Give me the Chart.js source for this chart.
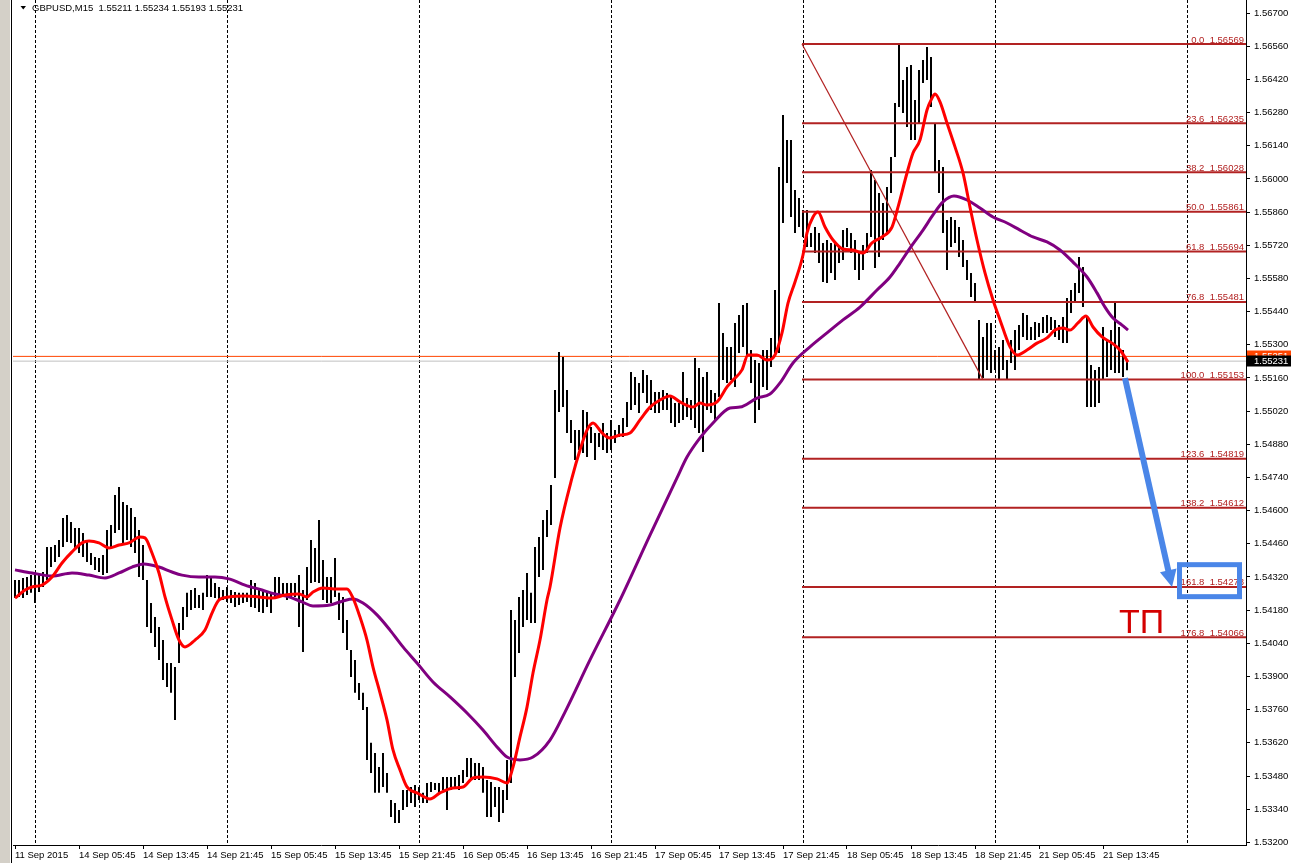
<!DOCTYPE html>
<html lang="en">
<head>
<meta charset="UTF-8">
<title>GBPUSD,M15</title>
<script src="https://cdn.jsdelivr.net/npm/chart.js@4.4.0/dist/chart.umd.min.js"></script>
<style>
  html, body { margin: 0; padding: 0; background: #fff; }
  canvas { display: block; }
</style>
</head>
<body>
<canvas id="chart" width="1291" height="863"></canvas>
<script>
// M15 bars, every second bar (x = bar number, 2 per entry)
const barHigh = [
  1.54307,1.54307,1.54316,1.54320,1.54328,1.54337,1.54328,1.54341,1.54447,1.54447,
  1.54455,1.54476,1.54569,1.54582,1.54552,1.54527,1.54527,1.54506,1.54468,1.54421,
  1.54404,1.54400,1.54413,1.54518,1.54539,1.54666,1.54700,1.54637,1.54624,1.54611,
  1.54573,1.54518,1.54455,1.54307,1.54210,1.54151,1.54109,1.54054,1.53957,1.53957,
  1.53940,1.54126,1.54193,1.54253,1.54265,1.54274,1.54244,1.54253,1.54328,1.54320,
  1.54295,1.54278,1.54265,1.54278,1.54265,1.54257,1.54253,1.54253,1.54253,1.54307,
  1.54295,1.54265,1.54265,1.54253,1.54253,1.54320,1.54320,1.54295,1.54295,1.54295,
  1.54295,1.54328,1.54265,1.54362,1.54476,1.54442,1.54561,1.54392,1.54320,1.54320,
  1.54400,1.54253,1.54236,1.54139,1.54012,1.53970,1.53873,1.53831,1.53771,1.53620,
  1.53577,1.53518,1.53577,1.53493,1.53379,1.53366,1.53337,1.53421,1.53421,1.53434,
  1.53442,1.53434,1.53409,1.53451,1.53455,1.53451,1.53451,1.53476,1.53476,1.53476,
  1.53476,1.53484,1.53506,1.53556,1.53556,1.53535,1.53535,1.53518,1.53463,1.53455,
  1.53434,1.53434,1.53421,1.53548,1.54181,1.54139,1.54236,1.54265,1.54337,1.54253,
  1.54447,1.54489,1.54561,1.54603,1.54708,1.55109,1.55270,1.55248,1.55109,1.54983,
  1.54940,1.54940,1.55025,1.55016,1.54953,1.54928,1.54928,1.54970,1.54928,1.54983,
  1.54940,1.54961,1.54991,1.55059,1.55185,1.55164,1.55139,1.55194,1.55172,1.55151,
  1.55101,1.55101,1.55109,1.55097,1.55088,1.55054,1.55054,1.55185,1.55075,1.55067,
  1.55244,1.55202,1.55164,1.55185,1.55109,1.55097,1.55476,1.55350,1.55291,1.55291,
  1.55392,1.55426,1.55468,1.55476,1.55278,1.55236,1.55223,1.55278,1.55278,1.55329,
  1.55531,1.56050,1.56270,1.56164,1.56164,1.55953,1.55919,1.55869,1.55869,1.55772,
  1.55797,1.55772,1.55730,1.55742,1.55730,1.55730,1.55713,1.55784,1.55793,1.55772,
  1.55742,1.55687,1.55721,1.55772,1.56038,1.55995,1.55941,1.55898,1.55966,1.56092,
  1.56320,1.56569,1.56417,1.56472,1.56481,1.56333,1.56460,1.56502,1.56557,1.56514,
  1.56236,1.56080,1.56050,1.55827,1.55839,1.55827,1.55797,1.55742,1.55658,1.55603,
  1.55561,1.55405,1.55333,1.55392,1.55392,1.55278,1.55291,1.55320,1.55236,1.55320,
  1.55362,1.55383,1.55434,1.55426,1.55375,1.55396,1.55392,1.55417,1.55426,1.55417,
  1.55405,1.55383,1.55417,1.55497,1.55531,1.55561,1.55670,1.55628,1.55417,1.55215,
  1.55194,1.55206,1.55375,1.55320,1.55362,1.55481,1.55375,1.55278,1.55234
];
const barLow = [
  1.54231,1.54236,1.54231,1.54244,1.54253,1.54210,1.54257,1.54278,1.54307,1.54362,
  1.54383,1.54404,1.54447,1.54468,1.54464,1.54434,1.54421,1.54404,1.54383,1.54371,
  1.54350,1.54341,1.54328,1.54337,1.54447,1.54506,1.54518,1.54464,1.54476,1.54447,
  1.54421,1.54320,1.54307,1.54109,1.54084,1.54025,1.53970,1.53885,1.53856,1.53831,
  1.53717,1.53957,1.54096,1.54151,1.54181,1.54189,1.54189,1.54181,1.54236,1.54236,
  1.54231,1.54223,1.54223,1.54215,1.54210,1.54193,1.54202,1.54210,1.54215,1.54193,
  1.54189,1.54172,1.54168,1.54193,1.54168,1.54236,1.54236,1.54236,1.54223,1.54231,
  1.54236,1.54109,1.54004,1.54223,1.54295,1.54299,1.54295,1.54223,1.54210,1.54210,
  1.54236,1.54139,1.54084,1.54012,1.53898,1.53831,1.53801,1.53759,1.53548,1.53493,
  1.53409,1.53409,1.53434,1.53409,1.53307,1.53282,1.53282,1.53337,1.53349,1.53366,
  1.53349,1.53379,1.53366,1.53366,1.53413,1.53421,1.53409,1.53421,1.53337,1.53421,
  1.53434,1.53421,1.53451,1.53476,1.53463,1.53463,1.53463,1.53409,1.53307,1.53307,
  1.53349,1.53286,1.53324,1.53379,1.53451,1.53898,1.53999,1.54109,1.54139,1.54126,
  1.54126,1.54320,1.54350,1.54489,1.54539,1.54738,1.55016,1.55037,1.54928,1.54886,
  1.54814,1.54856,1.54843,1.54826,1.54886,1.54814,1.54869,1.54856,1.54843,1.54856,
  1.54886,1.54911,1.54911,1.54953,1.55025,1.55046,1.55012,1.55097,1.55054,1.55025,
  1.55012,1.55012,1.55025,1.55025,1.54970,1.54953,1.54970,1.54983,1.54995,1.54983,
  1.54949,1.54928,1.54848,1.55025,1.55012,1.54983,1.55080,1.55151,1.55139,1.55151,
  1.55122,1.55265,1.55291,1.55248,1.55139,1.54970,1.55025,1.55122,1.55109,1.55206,
  1.55265,1.55265,1.55814,1.55983,1.55839,1.55772,1.55797,1.55755,1.55713,1.55713,
  1.55687,1.55645,1.55565,1.55561,1.55603,1.55573,1.55645,1.55658,1.55713,1.55687,
  1.55616,1.55573,1.55616,1.55687,1.55755,1.55624,1.55670,1.55742,1.55772,1.55941,
  1.56092,1.56303,1.56278,1.56219,1.56164,1.56164,1.56236,1.56405,1.56417,1.56303,
  1.56025,1.55941,1.55772,1.55616,1.55713,1.55730,1.55670,1.55628,1.55573,1.55502,
  1.55476,1.55153,1.55160,1.55194,1.55181,1.55194,1.55155,1.55194,1.55155,1.55223,
  1.55194,1.55278,1.55333,1.55320,1.55320,1.55320,1.55333,1.55350,1.55350,1.55362,
  1.55333,1.55320,1.55307,1.55307,1.55434,1.55476,1.55519,1.55459,1.55037,1.55037,
  1.55037,1.55054,1.55151,1.55164,1.55194,1.55181,1.55181,1.55164,1.55193
];

// moving averages, read at these bar numbers
const fastN = [0,5,8.5,13.5,18.5,23.5,28.5,33.5,37,42,47,52,57,62.5,65,68.5,72,75,78.5,82,85,90,95,98.5,102,107,115,122,128.5,135,142,146,149,154,161,166,169,172.5,176,179,182.5,186,189,192.5,196,201,207.5,212.5,219,224,229,234,241,246,249,252.5,256,259,262.5,266,267.5,272.5,278.5,282.5,286,289,293.5,297.5,302.5,307.5,312.5,317.5,322.5,327.5,332.5,339,342.5,346,351,356,359,363.5,366.5,371,376,380,383.5,386.5,390,394,396,399,401.5,405,409,414,419,424,428.5,433.5,438.5,441.5,446,449,452.5,456,458.5,460,462.5,466,470,474,477.5,481,485,489,492.5,497.5,501,506,511,516,520,524,527.5,531.5,535.5,539,543.5,548.5,552.5,556.5];
const fastMA = [1.54231,1.54265,1.54278,1.54286,1.54320,1.54379,1.54426,1.54464,1.54472,1.54464,1.54442,1.54455,1.54464,1.54489,1.54485,1.54421,1.54337,1.54236,1.54139,1.54054,1.54025,1.54054,1.54096,1.54168,1.54223,1.54236,1.54240,1.54236,1.54231,1.54244,1.54248,1.54236,1.54257,1.54274,1.54269,1.54269,1.54231,1.54151,1.54054,1.53940,1.53831,1.53717,1.53590,1.53506,1.53434,1.53409,1.53383,1.53409,1.53430,1.53434,1.53472,1.53476,1.53468,1.53451,1.53518,1.53645,1.53771,1.53915,1.54054,1.54223,1.54278,1.54527,1.54738,1.54856,1.54940,1.54970,1.54928,1.54907,1.54919,1.54928,1.54983,1.55037,1.55067,1.55084,1.55059,1.55037,1.55054,1.55046,1.55059,1.55122,1.55151,1.55194,1.55257,1.55257,1.55236,1.55257,1.55350,1.55476,1.55565,1.55679,1.55772,1.55839,1.55860,1.55797,1.55742,1.55704,1.55700,1.55687,1.55730,1.55755,1.55797,1.55881,1.56025,1.56109,1.56164,1.56291,1.56341,1.56358,1.56325,1.56236,1.56135,1.56025,1.55881,1.55742,1.55603,1.55489,1.55405,1.55291,1.55257,1.55278,1.55307,1.55329,1.55362,1.55371,1.55362,1.55392,1.55421,1.55375,1.55333,1.55307,1.55278,1.55227];
const slowN = [0,8.5,18.5,28.5,37,45,52,58.5,64.5,72,78.5,83.5,92,100,107,115,123.5,130,137,143.5,149,157.5,164,169,174,181,187.5,194,201,209,217.5,226,234,241,246,252.5,259,267.5,275,287.5,302.5,317.5,331,336,342.5,349,357.5,362.5,371,377.5,382.5,389,397.5,406,414,422.5,431,437.5,442.5,447.5,454,459,464,469.5,476,482.5,489,496,502.5,509,516,522.5,529,536,541,545,549,553.5,556.5];
const slowMA = [1.54350,1.54337,1.54324,1.54337,1.54328,1.54316,1.54337,1.54362,1.54375,1.54362,1.54341,1.54328,1.54320,1.54320,1.54312,1.54286,1.54265,1.54248,1.54236,1.54215,1.54198,1.54202,1.54219,1.54227,1.54210,1.54160,1.54096,1.54025,1.53957,1.53877,1.53814,1.53746,1.53674,1.53603,1.53560,1.53548,1.53560,1.53632,1.53750,1.53970,1.54223,1.54497,1.54738,1.54826,1.54907,1.54970,1.55033,1.55037,1.55075,1.55092,1.55139,1.55223,1.55291,1.55350,1.55405,1.55459,1.55531,1.55586,1.55645,1.55708,1.55784,1.55848,1.55903,1.55928,1.55911,1.55877,1.55839,1.55814,1.55784,1.55755,1.55734,1.55700,1.55649,1.55586,1.55519,1.55459,1.55413,1.55383,1.55362];

// fibonacci object
const fibPct = ['0.0','23.6','38.2','50.0','61.8','76.8','100.0','123.6','138.2','161.8','176.8'];
const fibVal = [1.56569,1.56235,1.56028,1.55861,1.55694,1.55481,1.55153,1.54819,1.54612,1.54278,1.54066];
const fibStartN = 393.5;
const fibEndN = 484;

const xLabels = ['11 Sep 2015','14 Sep 05:45','14 Sep 13:45','14 Sep 21:45','15 Sep 05:45','15 Sep 13:45','15 Sep 21:45','16 Sep 05:45','16 Sep 13:45','16 Sep 21:45','17 Sep 05:45','17 Sep 13:45','17 Sep 21:45','18 Sep 05:45','18 Sep 13:45','18 Sep 21:45','21 Sep 05:45','21 Sep 13:45'];
const xLabelN = [0,32,64,96,128,160,192,224,256,288,320,352,384,416,448,480,512,544];
const daySepN = [10,106,202,298,394,490,586];
const yTickVals = [1.53200,1.53340,1.53480,1.53620,1.53760,1.53900,1.54040,1.54180,1.54320,1.54460,1.54600,1.54740,1.54880,1.55020,1.55160,1.55300,1.55440,1.55580,1.55720,1.55860,1.56000,1.56140,1.56280,1.56420,1.56560,1.56700];

const symbolText = 'GBPUSD,M15';
const lastOHLC = ['1.55211','1.55234','1.55193','1.55231'];
const bidPrice = 1.55231;
const askPrice = 1.55251;

// hand drawn target
const arrowFrom = { x: 555, y: 1.55159 };
const arrowTo = { x: 578.5, y: 1.54278 };
const tpBox = { x1: 582.25, x2: 612.25, y1: 1.54372, y2: 1.54237 };
const tpText = { x: 563.25, y: 1.54082, text: 'ТП' };

const X_MIN = -1, X_MAX = 615.5;
const Y_MIN = 1.53189, Y_MAX = 1.56755;
const FIB_COLOR = '#b22222';
const BLUE = '#4a86e8';
const FONT = '"Liberation Sans", Arial, sans-serif';

const bars = barHigh.map((h, i) => ({ x: i * 2, y: [barLow[i], h] }));

const datasets = [];
datasets.push({
  type: 'bar', data: bars, backgroundColor: '#000', borderWidth: 0,
  barThickness: 2, inflateAmount: 0, grouped: false, order: 10
});
datasets.push({
  type: 'line', data: [{ x: X_MIN, y: bidPrice }, { x: X_MAX, y: bidPrice }],
  borderColor: '#c0c0c0', borderWidth: 1, pointRadius: 0, order: 12
});
datasets.push({
  type: 'line', data: [{ x: X_MIN, y: askPrice }, { x: X_MAX, y: askPrice }],
  borderColor: '#ff4500', borderWidth: 1, pointRadius: 0, order: 11
});
fibVal.forEach(v => {
  datasets.push({
    type: 'line', data: [{ x: fibStartN, y: v }, { x: X_MAX, y: v }],
    borderColor: FIB_COLOR, borderWidth: 2, pointRadius: 0, order: 5
  });
});
datasets.push({
  type: 'line', data: [{ x: fibStartN, y: fibVal[0] }, { x: fibEndN, y: fibVal[6] }],
  borderColor: FIB_COLOR, borderWidth: 1.2, pointRadius: 0, order: 5
});
datasets.push({
  type: 'line', data: slowN.map((n, i) => ({ x: n, y: slowMA[i] })),
  borderColor: '#800080', borderWidth: 3, pointRadius: 0,
  cubicInterpolationMode: 'monotone', order: 2
});
datasets.push({
  type: 'line', data: fastN.map((n, i) => ({ x: n, y: fastMA[i] })),
  borderColor: '#ff0000', borderWidth: 3, pointRadius: 0,
  cubicInterpolationMode: 'monotone', order: 1
});

const decor = {
  id: 'decor',
  beforeDraw(chart) {
    const { ctx, width, height } = chart;
    ctx.save();
    ctx.fillStyle = '#fff';
    ctx.fillRect(0, 0, width, height);
    ctx.fillStyle = '#d4d0c8';
    ctx.fillRect(0, 0, 10, height);
    ctx.fillStyle = '#000';
    ctx.fillRect(11, 0, 1, height);
    ctx.restore();
  },
  beforeDatasetsDraw(chart) {
    const { ctx, chartArea, scales } = chart;
    ctx.save();
    ctx.strokeStyle = '#000';
    ctx.lineWidth = 1;
    ctx.setLineDash([3, 2]);
    daySepN.forEach(n => {
      const px = Math.round(scales.x.getPixelForValue(n)) + 0.5;
      ctx.beginPath();
      ctx.moveTo(px, chartArea.top);
      ctx.lineTo(px, chartArea.bottom);
      ctx.stroke();
    });
    ctx.restore();
  },
  afterDatasetsDraw(chart) {
    const { ctx, chartArea, scales } = chart;
    const x = scales.x, y = scales.y;
    ctx.save();
    // fib level captions
    ctx.font = '9.5px ' + FONT;
    ctx.fillStyle = FIB_COLOR;
    ctx.textAlign = 'right';
    ctx.textBaseline = 'alphabetic';
    fibVal.forEach((v, i) => {
      ctx.fillText(fibPct[i] + '  ' + v.toFixed(5), chartArea.right - 2, y.getPixelForValue(v) - 1.5);
    });

    // arrow to the target
    const x0 = x.getPixelForValue(arrowFrom.x), y0 = y.getPixelForValue(arrowFrom.y);
    const x1 = x.getPixelForValue(arrowTo.x), y1 = y.getPixelForValue(arrowTo.y);
    const len = Math.hypot(x1 - x0, y1 - y0);
    const ux = (x1 - x0) / len, uy = (y1 - y0) / len;
    const head = 17, half = 8.5;
    const bx = x1 - ux * head, by = y1 - uy * head;
    ctx.strokeStyle = BLUE;
    ctx.fillStyle = BLUE;
    ctx.lineWidth = 6;
    ctx.beginPath();
    ctx.moveTo(x0, y0);
    ctx.lineTo(bx + ux * 2, by + uy * 2);
    ctx.stroke();
    ctx.beginPath();
    ctx.moveTo(x1, y1);
    ctx.lineTo(bx - uy * half, by + ux * half);
    ctx.lineTo(bx + uy * half, by - ux * half);
    ctx.closePath();
    ctx.fill();

    // target box
    ctx.lineWidth = 5;
    const rx = x.getPixelForValue(tpBox.x1), ry = y.getPixelForValue(tpBox.y1);
    ctx.strokeRect(rx, ry, x.getPixelForValue(tpBox.x2) - rx, y.getPixelForValue(tpBox.y2) - ry);

    ctx.font = '34px ' + FONT;
    ctx.fillStyle = '#d40000';
    ctx.textAlign = 'center';
    ctx.fillText(tpText.text, x.getPixelForValue(tpText.x), y.getPixelForValue(tpText.y));
    ctx.restore();
  },
  afterDraw(chart) {
    const { ctx, chartArea, scales } = chart;
    const y = scales.y;
    ctx.save();
    // header
    ctx.fillStyle = '#000';
    ctx.beginPath();
    ctx.moveTo(20.5, 6);
    ctx.lineTo(26, 6);
    ctx.lineTo(23.25, 9.5);
    ctx.closePath();
    ctx.fill();
    ctx.font = '9.5px ' + FONT;
    ctx.textAlign = 'left';
    ctx.textBaseline = 'alphabetic';
    ctx.fillText(symbolText + '  ' + lastOHLC.join(' '), 32, 11);

    // price marks on the axis
    const bx = chartArea.right + 1;
    const ya = y.getPixelForValue(askPrice), yb = y.getPixelForValue(bidPrice);
    ctx.textBaseline = 'middle';
    ctx.fillStyle = '#ff4500';
    ctx.fillRect(bx, Math.round(ya) - 5.5, 44, 11);
    ctx.fillStyle = '#fff';
    ctx.fillText(askPrice.toFixed(5), bx + 7, Math.round(ya));
    ctx.fillStyle = '#000';
    ctx.fillRect(bx, Math.round(yb) - 5.5, 44, 11);
    ctx.fillStyle = '#fff';
    ctx.fillText(bidPrice.toFixed(5), bx + 7, Math.round(yb));
    ctx.restore();
  }
};

new Chart(document.getElementById('chart'), {
  type: 'line',
  data: { datasets },
  plugins: [decor],
  options: {
    responsive: false,
    animation: false,
    events: [],
    layout: { padding: { left: 13, top: 0, right: 0, bottom: 0 } },
    plugins: { legend: { display: false }, tooltip: { enabled: false } },
    scales: {
      x: {
        type: 'linear', min: X_MIN, max: X_MAX, offset: false,
        grid: { display: true, drawOnChartArea: false, drawTicks: true, tickLength: 4, color: '#000', offset: false },
        border: { display: true, color: '#000', width: 1 },
        ticks: {
          autoSkip: false, maxRotation: 0, minRotation: 0, align: 'start', padding: 1,
          color: '#000', font: { family: FONT, size: 9.5 },
          callback: (v, i) => xLabels[i]
        },
        afterBuildTicks: s => { s.ticks = xLabelN.map(n => ({ value: n })); },
        afterFit: s => { s.height = 18; s.paddingLeft = 0; s.paddingRight = 0; }
      },
      y: {
        type: 'linear', position: 'right', min: Y_MIN, max: Y_MAX,
        grid: { display: true, drawOnChartArea: false, drawTicks: true, tickLength: 4, color: '#000' },
        border: { display: true, color: '#000', width: 1 },
        ticks: {
          padding: 4, color: '#000', font: { family: FONT, size: 9.5 },
          callback: v => Number(v).toFixed(5)
        },
        afterBuildTicks: s => { s.ticks = yTickVals.map(v => ({ value: v })); },
        afterFit: s => { s.width = 45; s.paddingTop = 0; s.paddingBottom = 0; }
      }
    }
  }
});
</script>
</body>
</html>
